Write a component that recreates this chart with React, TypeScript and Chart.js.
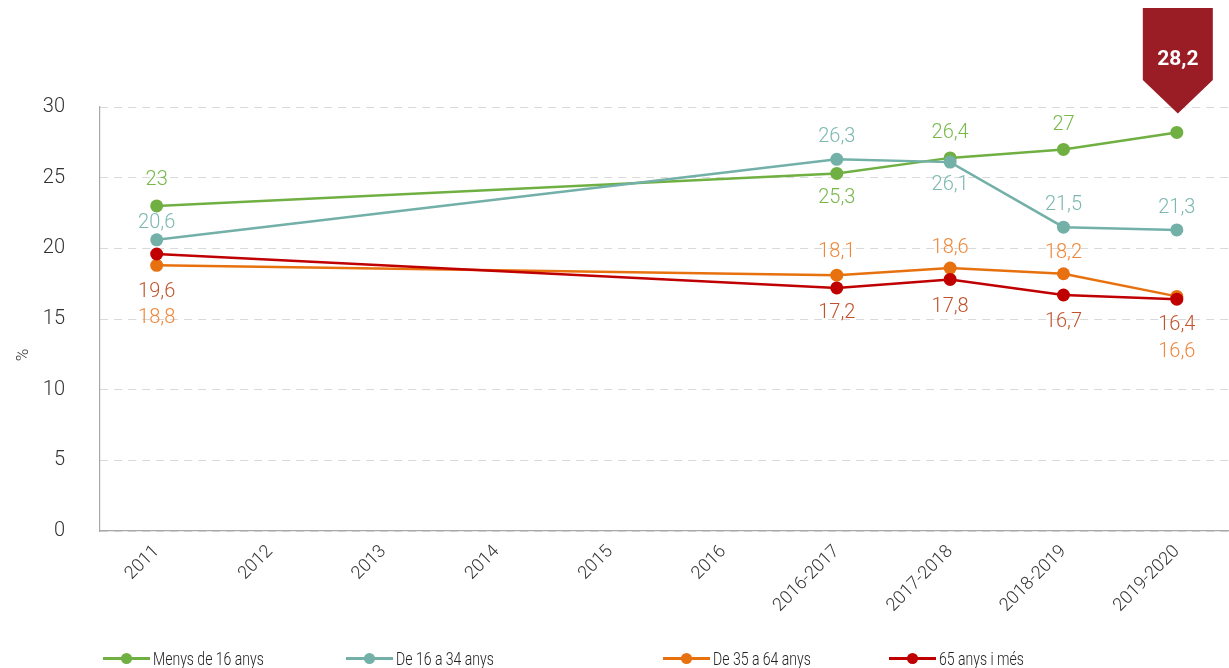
import React, { useEffect, useRef } from "react";
import { Chart, registerables } from "chart.js";

Chart.register(...registerables);

const categories = ["2011", "2012", "2013", "2014", "2015", "2016", "2016-2017", "2017-2018", "2018-2019", "2019-2020"];
const seriesNames = ["Menys de 16 anys", "De 16 a 34 anys", "De 35 a 64 anys", "65 anys i més"];

const menys16 = [23, null, null, null, null, null, 25.3, 26.4, 27, 28.2];
const de16a34 = [20.6, null, null, null, null, null, 26.3, 26.1, 21.5, 21.3];
const de35a64 = [18.8, null, null, null, null, null, 18.1, 18.6, 18.2, 16.6];
const mes65 = [19.6, null, null, null, null, null, 17.2, 17.8, 16.7, 16.4];

const yTicks = [0, 5, 10, 15, 20, 25, 30];

// label vertical offsets (px) from the point, null = no label
const offMenys16 = [-26, null, null, null, null, null, 25, -25, -24, null];
const offDe16a34 = [-17, null, null, null, null, null, -22, 23, -22, -22];
const offDe35a64 = [53, null, null, null, null, null, -23, -20, -21, 56];
const offMes65 = [38, null, null, null, null, null, 25, 28, 27, 26];

const lineColors = ["#70b043", "#72b0a8", "#e8710f", "#c00000"];
const labelColors = ["#78b84c", "#7db8b0", "#ef873a", "#c0532b"];
const FONT = "Roboto, 'Noto Sans', sans-serif";

const fmt = (v: number) => String(v).replace(".", ",");

export default function App() {
  const ref = useRef<HTMLCanvasElement>(null);
  useEffect(() => {
    const seriesData = [menys16, de16a34, de35a64, mes65];
    const offsets = [offMenys16, offDe16a34, offDe35a64, offMes65];
    const labelPlugin = {
      id: "valueLabels",
      afterDatasetsDraw(chart: any) {
        const ctx = chart.ctx;
        ctx.save();
        ctx.font = `300 20px ${FONT}`;
        ctx.textAlign = "center";
        ctx.textBaseline = "middle";
        chart.data.datasets.forEach((ds: any, di: number) => {
          const meta = chart.getDatasetMeta(di);
          ds.data.forEach((v: any, i: number) => {
            const off = offsets[di][i];
            if (v == null || off == null) return;
            const el = meta.data[i];
            ctx.fillStyle = labelColors[di];
            ctx.fillText(fmt(v), el.x, el.y + off);
          });
        });
        ctx.restore();
      },
    };
    const calloutPlugin = {
      id: "callout",
      afterDraw(chart: any) {
        const ctx = chart.ctx;
        const meta = chart.getDatasetMeta(0);
        const last = menys16.length - 1;
        const el = meta.data[last];
        const cx = el.x + 1;
        const tipY = el.y - 19;
        const w = 70;
        ctx.save();
        ctx.fillStyle = "#9a1c25";
        ctx.beginPath();
        ctx.moveTo(cx - w / 2, 8);
        ctx.lineTo(cx + w / 2, 8);
        ctx.lineTo(cx + w / 2, 80);
        ctx.lineTo(cx, tipY);
        ctx.lineTo(cx - w / 2, 80);
        ctx.closePath();
        ctx.fill();
        ctx.fillStyle = "#ffffff";
        ctx.font = `bold 21px ${FONT}`;
        ctx.textAlign = "center";
        ctx.textBaseline = "middle";
        ctx.fillText(fmt(menys16[last] as number), cx, 60);
        ctx.restore();
      },
    };
    const chart = new Chart(ref.current!, {
      type: "line",
      data: {
        labels: categories,
        datasets: seriesData.map((d, i) => ({
          label: seriesNames[i],
          data: d,
          borderColor: lineColors[i],
          backgroundColor: lineColors[i],
          pointBackgroundColor: lineColors[i],
          pointBorderColor: lineColors[i],
          pointRadius: 6.5,
          pointBorderWidth: 0,
          borderWidth: 2.5,
          spanGaps: true,
          tension: 0,
          order: [4, 3, 2, 1][i],
        })),
      },
      options: {
        responsive: false,
        animation: false,
        layout: { padding: { top: 107, right: 3, left: 0, bottom: 0 } },
        plugins: { legend: { display: false }, tooltip: { enabled: false } },
        scales: {
          x: {
            type: "category",
            offset: true,
            grid: { display: false, drawTicks: false },
            border: { display: true, color: "#a8a8a8", width: 1.2 },
            ticks: {
              minRotation: 45,
              maxRotation: 45,
              padding: 10,
              color: "#333",
              font: { family: FONT, size: 18, weight: 300 },
            },
            afterFit: (axis: any) => {
              axis.height = 137;
            },
          },
          y: {
            min: 0,
            max: 30,
            afterBuildTicks: (axis: any) => {
              axis.ticks = yTicks.map((v) => ({ value: v }));
            },
            grid: { color: "#d9d9d9", drawTicks: false, lineWidth: 1 },
            border: { display: true, color: "#a8a8a8", width: 1.2, dash: [8, 6] },
            ticks: {
              padding: 35,
              color: "#333",
              font: { family: FONT, size: 20, weight: 300 },
            },
            title: { display: false },
            afterFit: (axis: any) => {
              axis.width = 100;
            },
          },
        },
      },
      plugins: [labelPlugin, calloutPlugin],
    });
    return () => chart.destroy();
  }, []);

  const legendPos = [103, 346, 663, 889];
  return (
    <div style={{ position: "absolute", left: 0, top: 0, width: 1229, height: 668, overflow: "hidden", background: "#fff" }}>
      <canvas ref={ref} width={1240} height={668} style={{ display: "block", width: 1240, height: 668 }} />
      <div
        style={{
          position: "absolute",
          left: 12,
          top: 345,
          width: 20,
          height: 20,
          lineHeight: "20px",
          textAlign: "center",
          transform: "rotate(-90deg)",
          fontFamily: FONT,
          fontWeight: 300,
          fontSize: 17,
          color: "#333",
        }}
      >
        %
      </div>
      {seriesNames.map((n, i) => (
        <div
          key={n}
          style={{
            position: "absolute",
            left: legendPos[i],
            top: 648,
            height: 20,
            display: "flex",
            alignItems: "center",
            fontFamily: FONT,
            fontWeight: 300,
            fontSize: 18,
            color: "#222",
            whiteSpace: "nowrap",
          }}
        >
          <div style={{ position: "relative", width: 47, height: 20, marginRight: 3 }}>
            <div style={{ position: "absolute", left: 0, top: 9, width: 47, height: 3, background: lineColors[i] }} />
            <div style={{ position: "absolute", left: 18, top: 5, width: 11, height: 11, borderRadius: "50%", background: lineColors[i] }} />
          </div>
          <span style={{ display: "inline-block", transform: "scaleX(0.78)", transformOrigin: "left center" }}>{n}</span>
        </div>
      ))}
    </div>
  );
}
